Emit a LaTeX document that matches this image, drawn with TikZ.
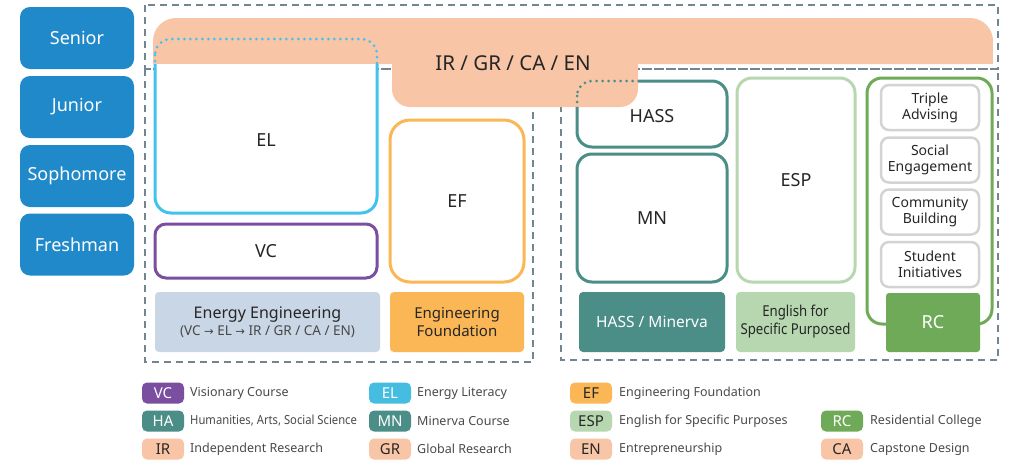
\documentclass[tikz,border=0pt]{standalone}
\usepackage{fontspec}
\usepackage{graphicx}
\setmainfont{Noto Sans}
\newfontfamily\djv{DejaVu Sans}
\definecolor{yearblue}{HTML}{2089C9}
\definecolor{dashc}{HTML}{728691}
\definecolor{peach}{HTML}{F9C5A7}
\definecolor{elc}{HTML}{41C3EE}
\definecolor{elbadge}{HTML}{45BDE0}
\definecolor{vcpurple}{HTML}{7A4F9F}
\definecolor{eforange}{HTML}{FBB756}
\definecolor{teal}{HTML}{4A8E87}
\definecolor{lgreen}{HTML}{B6D7AF}
\definecolor{rcgreen}{HTML}{6FAA58}
\definecolor{subgray}{HTML}{D3D3D3}
\definecolor{eebg}{HTML}{C9D6E5}
\definecolor{dark}{HTML}{262626}
\definecolor{legc}{HTML}{4A4A4A}
\newcommand\fsz[2]{\fontsize{#1}{#2}\selectfont}
\newcommand\rarr{{\djv\fontsize{11.5}{13}\selectfont →}}
\begin{document}
\begin{tikzpicture}[x=1pt,y=-1pt,
  year/.style={fill=yearblue, rounded corners=10, minimum width=114, minimum height=62, inner sep=0, text=white, font=\fsz{18}{22}},
  dashframe/.style={draw=dashc, line width=2.5, dash pattern=on 7 off 5},
  coursebox/.style={draw, fill=white, line width=3, inner sep=0, text=dark, font=\fsz{18}{22}},
  subbox/.style={draw=subgray, fill=white, line width=2.5, rounded corners=8, minimum width=98, minimum height=45, inner sep=0, align=center, text=dark, font=\fsz{14}{16}},
  trackbox/.style={rounded corners=4, inner sep=0, align=center, minimum height=60, text=dark, font=\fsz{15}{18}},
  badgebox/.style={rounded corners=5, minimum width=42, minimum height=21, inner sep=0, font=\fsz{15}{18}},
  legtext/.style={anchor=west, inner sep=0, text=legc, font=\fsz{12.5}{15}},
  dotline/.style={line width=3, dash pattern=on 0pt off 6pt, line cap=round}
]
\fill[white] (0,0) rectangle (1014,464);
\useasboundingbox (0,0) rectangle (1014,464);

% year labels
\node[year] (senior) at (77,38) {Senior};
\node[year] (junior) at (77,107) {Junior};
\node[year] (sophomore) at (77,176) {Sophomore};
\node[year] (freshman) at (77,244.5) {Freshman};

% dashed frames
\draw[dashframe] (145,5) rectangle (998,69);
\draw[dashframe] (145,69) rectangle (533,362);
\draw[dashframe] (561,69) rectangle (998,360);

% orange senior band
\fill[peach, rounded corners=23] (153,18) rectangle (993,64);
\fill[peach] (153,40) rectangle (993,64);
\fill[peach, rounded corners=18] (392,40) rectangle (638,107);
\fill[peach] (392,40) rectangle (638,80);
\node[text=dark, font=\fsz{20.5}{24}] (irgr) at (513,63) {IR / GR / CA / EN};

% EL box
\begin{scope}
  \clip (140,64) rectangle (390,230);
  \fill[white, rounded corners=16] (155,39) rectangle (377,213);
  \draw[elc, line width=3, rounded corners=16] (155,39) rectangle (377,213);
\end{scope}
\begin{scope}
  \clip (140,25) rectangle (390,63);
  \draw[elc, dotline, rounded corners=16] (155,39) rectangle (377,213);
\end{scope}
\node[text=dark, font=\fsz{18}{22}] (el) at (266,140) {EL};

% VC, EF
\node[coursebox, draw=vcpurple, rounded corners=11, minimum width=222, minimum height=54] (vc) at (266,251) {VC};
\node[coursebox, draw=eforange, rounded corners=20, minimum width=134, minimum height=162] (ef) at (457,201) {EF};

% HASS box
\begin{scope}
  \clip (560,107) rectangle (740,160) (638,70) rectangle (740,160);
  \draw[teal, line width=3, rounded corners=15] (577,81) rectangle (727,147);
\end{scope}
\begin{scope}
  \clip (560,70) rectangle (638,107);
  \draw[teal, dotline, rounded corners=15] (577,81) rectangle (727,147);
\end{scope}
\node[text=dark, font=\fsz{18}{22}] (hass) at (652,116) {HASS};

% MN, ESP
\node[coursebox, draw=teal, rounded corners=15, minimum width=150, minimum height=128] (mn) at (652,218) {MN};
\node[coursebox, draw=lgreen, rounded corners=15, minimum width=118, minimum height=204] (esp) at (796,180) {ESP};

% RC
\node[draw=rcgreen, line width=3, rounded corners=15, minimum width=125, minimum height=246, inner sep=0] (rcout) at (929.5,201) {};
\node[subbox] (triple) at (930,107.5) {Triple\\Advising};
\node[subbox] (social) at (930,160) {Social\\Engagement};
\node[subbox] (community) at (930,212) {Community\\Building};
\node[subbox] (student) at (930,264.5) {Student\\Initiatives};
\node[trackbox, fill=rcgreen, minimum width=94, minimum height=59, text=white, font=\fsz{18}{22}, rounded corners=3] (rc) at (933,322.5) {RC};

% track labels
\node[trackbox, fill=eebg, minimum width=225] (ee) at (267.5,322) {{\fsz{16}{19}Energy Engineering}\\[-1pt]{\fsz{13.5}{16}\color{dark!85}(VC \rarr{} EL \rarr{} IR / GR / CA / EN)}};
\node[trackbox, fill=eforange, minimum width=134] (efl) at (457,322) {Engineering\\Foundation};
\node[trackbox, fill=teal, minimum width=146, text=white, font=\fsz{15.5}{18}] (hm) at (652,322) {HASS / Minerva};
\node[trackbox, fill=lgreen, minimum width=119] (espl) at (795.5,322) {\scalebox{0.88}[1]{English for}\\\scalebox{0.88}[1]{Specific Purposed}};

% legend
\node[badgebox, fill=vcpurple, text=white] (bvc) at (163,393) {VC};
\node[legtext] (tvc) at (190,393) {Visionary Course};
\node[badgebox, fill=elbadge, text=white] (bel) at (390,393) {EL};
\node[legtext] (tel) at (417,393) {Energy Literacy};
\node[badgebox, fill=eforange, text=dark] (bef) at (591,393) {EF};
\node[legtext] (tef) at (619,393) {Engineering Foundation};

\node[badgebox, fill=teal, text=white] (bha) at (163,421) {HA};
\node[legtext] (tha) at (190,421) {\scalebox{0.9}[1]{Humanities, Arts, Social Science}};
\node[badgebox, fill=teal, text=white] (bmn) at (390,421) {MN};
\node[legtext] (tmn) at (417,421) {Minerva Course};
\node[badgebox, fill=lgreen, text=dark] (besp) at (591,421) {ESP};
\node[legtext] (tesp) at (619,421) {English for Specific Purposes};
\node[badgebox, fill=rcgreen, text=white] (brc) at (842,421) {RC};
\node[legtext] (trc) at (870,421) {Residential College};

\node[badgebox, fill=peach, text=dark] (bir) at (163,449) {IR};
\node[legtext] (tir) at (190,449) {Independent Research};
\node[badgebox, fill=peach, text=dark] (bgr) at (390,449) {GR};
\node[legtext] (tgr) at (417,449) {Global Research};
\node[badgebox, fill=peach, text=dark] (ben) at (591,449) {EN};
\node[legtext] (ten) at (619,449) {Entrepreneurship};
\node[badgebox, fill=peach, text=dark] (bca) at (842,449) {CA};
\node[legtext] (tca) at (870,449) {Capstone Design};
\end{tikzpicture}
\end{document}
